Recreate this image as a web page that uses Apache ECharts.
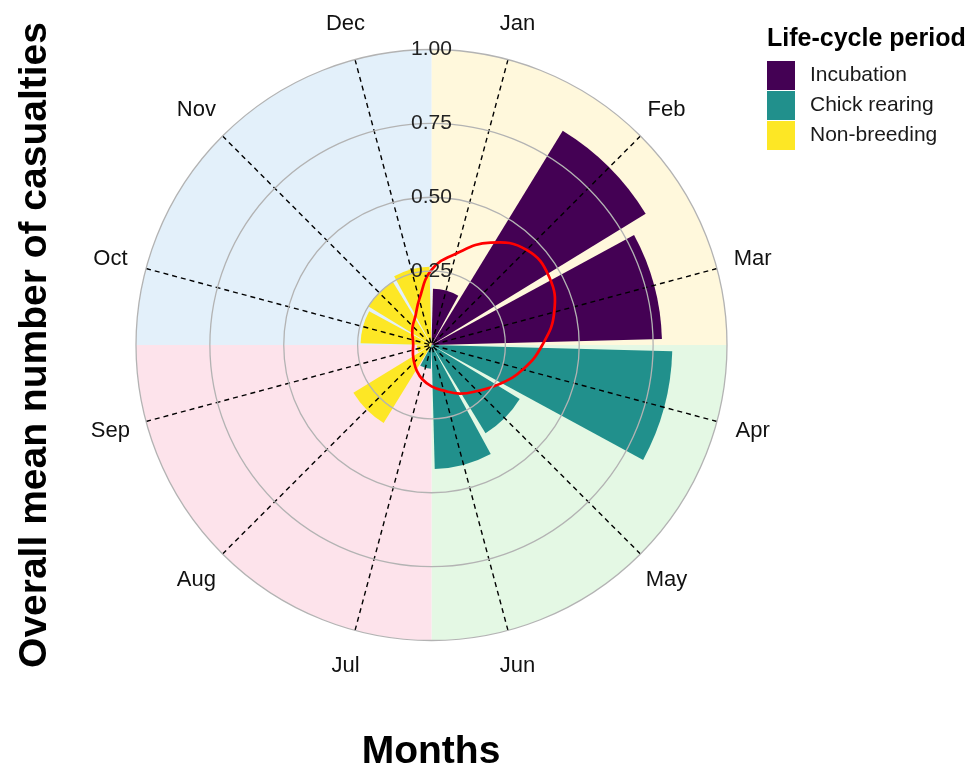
<!DOCTYPE html>
<html>
<head>
<meta charset="utf-8">
<script src="https://cdn.jsdelivr.net/npm/echarts@6/dist/echarts.min.js"></script>
<style>
  html, body { margin: 0; padding: 0; background: #fff; }
  #chart { width: 973px; height: 772px; }
</style>
</head>
<body>
<div id="chart"></div>
<script>
// mean casualties per month, one array per life-cycle period
var months = ['Jan', 'Feb', 'Mar', 'Apr', 'May', 'Jun', 'Jul', 'Aug', 'Sep', 'Oct', 'Nov', 'Dec'];
var incubation   = [0.19, 0.85, 0.78, null, null, null, null, null, null, null, null, null];
var chickRearing = [null, null, null, 0.815, 0.35, 0.42, 0.08, null, null, null, null, null];
var nonBreeding  = [null, null, null, null, null, null, null, 0.31, 0.05, 0.24, 0.25, 0.265];
var periods = ['Incubation', 'Chick rearing', 'Non-breeding'];
var periodColors = ['#440154', '#21908C', '#FDE725'];

// red trend loop, read every half month (0 = centre of Jan), closes on itself
var trendPos = [-0.5, 0, 0.5, 1, 1.5, 2, 2.5, 3, 3.5, 4, 4.5, 5, 5.5, 6, 6.5, 7, 7.5, 8, 8.5, 9, 9.5, 10, 10.5, 11];
var trendVal = [0.254, 0.32, 0.40, 0.455, 0.46, 0.43, 0.375, 0.32, 0.265, 0.22, 0.19, 0.16,
                0.14, 0.12, 0.10, 0.083, 0.072, 0.065, 0.062, 0.065, 0.075, 0.09, 0.11, 0.16];

// seasonal background quadrants
var quadrants = ['Jan-Mar', 'Apr-Jun', 'Jul-Sep', 'Oct-Dec'];
var quadrantTop = [1, 1, 1, 1];
var quadrantColors = ['#FFF8DC', '#E4F8E4', '#FDE3EB', '#E3F0FA'];

var radiusTicks = [0, 1, 0.25];   // min, max, step

var C = [431.5, 345];
var R = 295.5;
var LABEL_R = 1.125;
var FONT = '"Liberation Sans", Arial, sans-serif';

var chart = echarts.init(document.getElementById('chart'));

var hidden = { axisLine: { show: false }, axisTick: { show: false }, axisLabel: { show: false }, splitLine: { show: false } };

// closed smooth loop through the trend points (projected by the polar axes)
function renderTrend(params, api) {
  if (params.dataIndex !== 0) return null;
  var pts = trendPos.map(function (p, i) { return api.coord([trendVal[i], p]); });
  return {
    type: 'polygon',
    shape: { points: pts, smooth: 0.45 },
    style: { fill: 'none', stroke: '#ff0000', lineWidth: 2.7 }
  };
}

var option = {
  backgroundColor: '#ffffff',
  animation: false,
  polar: [
    { center: C, radius: R },
    { center: C, radius: R },
    { center: C, radius: R }
  ],
  angleAxis: [
    Object.assign({ polarIndex: 0, type: 'category', data: quadrants, startAngle: 90, clockwise: true }, hidden),
    Object.assign({ polarIndex: 1, type: 'category', data: months, startAngle: 90, clockwise: true }, hidden),
    {
      polarIndex: 2, type: 'value', min: 0, max: 12, interval: 1, startAngle: 75, clockwise: true,
      axisLine: { show: false }, axisTick: { show: false }, axisLabel: { show: false },
      splitLine: { show: true, lineStyle: { color: '#000', type: [5, 4], width: 1.4 } },
      z: 5
    }
  ],
  radiusAxis: [
    { polarIndex: 0, type: 'value', min: radiusTicks[0], max: radiusTicks[1], show: false },
    {
      polarIndex: 1, type: 'value', min: radiusTicks[0], max: radiusTicks[1], interval: radiusTicks[2],
      axisLine: { show: false }, axisTick: { show: false },
      axisLabel: {
        margin: 0, align: 'center', verticalAlign: 'middle',
        fontSize: 21, color: '#222', fontFamily: FONT,
        formatter: function (v) { return v === 0 ? '' : v.toFixed(2); }
      },
      splitLine: { show: true, lineStyle: { color: '#b3b3b3', width: 1.3 } },
      z: 8
    },
    { polarIndex: 2, type: 'value', min: radiusTicks[0], max: radiusTicks[1], show: false }
  ],
  legend: {
    data: periods,
    orient: 'vertical',
    left: 762,
    top: 56,
    itemWidth: 28,
    itemHeight: 29,
    itemGap: 1,
    icon: 'rect',
    selectedMode: false,
    textStyle: { fontSize: 21, color: '#1a1a1a', fontFamily: FONT, padding: [0, 0, 0, 10] }
  },
  graphic: [
    {
      type: 'text', x: 35, y: 345, rotation: Math.PI / 2,
      style: { text: 'Overall mean number of casualties', font: 'bold 39px ' + FONT, fill: '#000', align: 'center', verticalAlign: 'middle' }
    },
    {
      type: 'text', x: 431, y: 752,
      style: { text: 'Months', font: 'bold 39px ' + FONT, fill: '#000', align: 'center', verticalAlign: 'middle' }
    },
    {
      type: 'text', x: 767, y: 39,
      style: { text: 'Life-cycle period', font: 'bold 25px ' + FONT, fill: '#000', align: 'left', verticalAlign: 'middle' }
    }
  ],
  series: [
    {
      type: 'bar', coordinateSystem: 'polar', polarIndex: 0, silent: true,
      barCategoryGap: '0%', z: 1,
      data: quadrantTop.map(function (v, i) { return { value: v, itemStyle: { color: quadrantColors[i] } }; })
    },
    {
      name: periods[0], type: 'bar', coordinateSystem: 'polar', polarIndex: 1, stack: 'month',
      barCategoryGap: '10%', itemStyle: { color: periodColors[0] }, data: incubation, z: 2
    },
    {
      name: periods[1], type: 'bar', coordinateSystem: 'polar', polarIndex: 1, stack: 'month',
      barCategoryGap: '10%', itemStyle: { color: periodColors[1] }, data: chickRearing, z: 2
    },
    {
      name: periods[2], type: 'bar', coordinateSystem: 'polar', polarIndex: 1, stack: 'month',
      barCategoryGap: '10%', itemStyle: { color: periodColors[2] }, data: nonBreeding, z: 2
    },
    {
      type: 'custom', coordinateSystem: 'polar', polarIndex: 2, silent: true,
      data: trendPos.map(function (p, i) { return [trendVal[i], p]; }),
      renderItem: renderTrend,
      z: 7
    },
    {
      type: 'scatter', coordinateSystem: 'polar', polarIndex: 1, silent: true, clip: false,
      symbolSize: 0,
      data: months.map(function (m) { return [LABEL_R, m]; }),
      label: {
        show: true, position: 'inside', fontSize: 22, color: '#111', opacity: 1, fontFamily: FONT,
        formatter: function (p) { return months[p.dataIndex]; }
      },
      z: 9
    }
  ]
};

chart.setOption(option);
</script>
</body>
</html>
